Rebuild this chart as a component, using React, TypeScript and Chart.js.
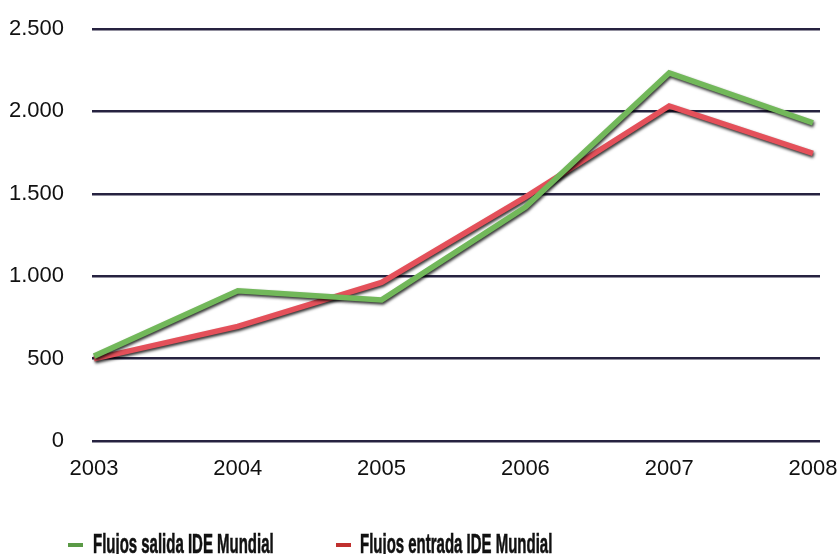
import React, { useEffect, useRef } from "react";
import { Chart, registerables } from "chart.js";

Chart.register(...registerables);

const years = [2003, 2004, 2005, 2006, 2007, 2008];
const salida = [515, 912, 856, 1420, 2233, 1930];
const entrada = [498, 695, 962, 1480, 2033, 1745];
const yTicks = [0, 500, 1000, 1500, 2000, 2500];
const seriesNames = ["Flujos salida IDE Mundial", "Flujos entrada IDE Mundial"];

const shadowPlugin = {
  id: "lineShadow",
  beforeDatasetDraw(chart: any) {
    const ctx = chart.ctx;
    ctx.save();
    ctx.shadowColor = "rgba(0,0,0,0.8)";
    ctx.shadowBlur = 3;
    ctx.shadowOffsetX = 1;
    ctx.shadowOffsetY = 2;
  },
  afterDatasetDraw(chart: any) {
    chart.ctx.restore();
  },
};

const fmt = (v: number) => v.toString().replace(/\B(?=(\d{3})+(?!\d))/g, ".");

export default function App() {
  const ref = useRef<HTMLCanvasElement>(null);
  useEffect(() => {
    document.body.style.margin = "0";
    const chart = new Chart(ref.current!, {
      type: "line",
      data: {
        datasets: [
          {
            label: seriesNames[0],
            data: years.map((y, i) => ({ x: y, y: salida[i] })),
            borderColor: "#72b85a",
            borderWidth: 5.5,
            pointRadius: 0,
            tension: 0,
          },
          {
            label: seriesNames[1],
            data: years.map((y, i) => ({ x: y, y: entrada[i] })),
            borderColor: "#e4505a",
            borderWidth: 5.5,
            pointRadius: 0,
            tension: 0,
          },
        ],
      },
      options: {
        animation: false,
        responsive: false,
        layout: { padding: { top: 29, right: 20, bottom: 0, left: 0 } },
        plugins: { legend: { display: false }, tooltip: { enabled: false } },
        scales: {
          x: {
            type: "linear",
            min: 2002.986,
            max: 2008.049,
            afterBuildTicks: (s: any) => {
              s.ticks = years.map((v) => ({ value: v }));
            },
            afterFit: (s: any) => {
              s.height = 113;
              s.paddingLeft = 0;
              s.paddingRight = 0;
            },
            grid: { display: false, drawTicks: false },
            border: { display: false },
            ticks: {
              padding: 15,
              color: "#111",
              font: { family: "Liberation Sans", size: 22 },
              callback: (v: any) => String(v),
              maxRotation: 0,
              autoSkip: false,
            },
          },
          y: {
            min: 0,
            max: 2500,
            afterBuildTicks: (s: any) => {
              s.ticks = yTicks.map((v) => ({ value: v }));
            },
            afterFit: (s: any) => {
              s.width = 92;
              s.paddingTop = 0;
              s.paddingBottom = 0;
            },
            grid: { color: "#262240", lineWidth: 2.5, drawTicks: false },
            border: { display: false },
            ticks: {
              padding: 28,
              color: "#111",
              font: { family: "Liberation Sans", size: 22 },
              callback: (v: any) => fmt(Number(v)),
            },
          },
        },
      },
      plugins: [shadowPlugin],
    });
    return () => chart.destroy();
  }, []);

  const legendText: React.CSSProperties = {
    fontFamily: "'Liberation Sans', Arial, sans-serif",
    fontWeight: "bold",
    fontSize: 27,
    color: "#111",
    position: "absolute",
    top: 531,
    lineHeight: 1,
    whiteSpace: "nowrap",
    transform: "scaleX(0.555)",
    transformOrigin: "left top",
    WebkitTextStroke: "0.6px #111",
  };
  return (
    <div style={{ position: "relative", width: 840, height: 554, overflow: "hidden", background: "#fff" }}>
      <canvas ref={ref} width={840} height={554} style={{ display: "block" }} />
      <div style={{ position: "absolute", left: 68, top: 543, width: 15, height: 4, background: "#5a9a46" }} />
      <div style={{ ...legendText, left: 93 }}>{seriesNames[0]}</div>
      <div style={{ position: "absolute", left: 336, top: 543, width: 15, height: 4, background: "#c0302e" }} />
      <div style={{ ...legendText, left: 360 }}>{seriesNames[1]}</div>
    </div>
  );
}
